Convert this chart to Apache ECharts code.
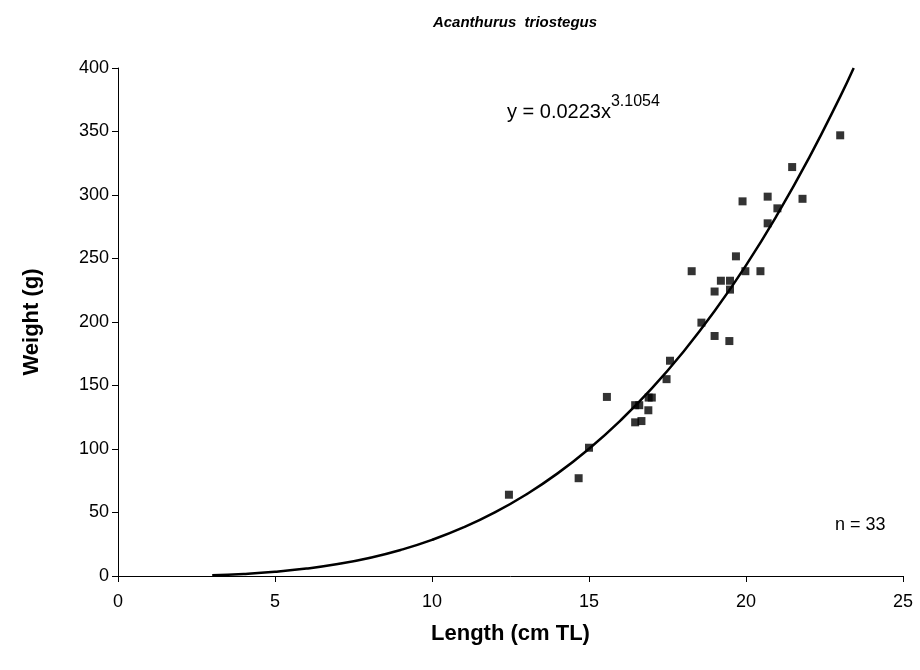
<!DOCTYPE html>
<html>
<head>
<meta charset="utf-8">
<script src="https://cdn.jsdelivr.net/npm/echarts@6/dist/echarts.min.js"></script>
<style>
html,body{margin:0;padding:0;background:#fff;}
#c{width:920px;height:670px;}
</style>
</head>
<body>
<div id="c"></div>
<script>
// Observed data: length (cm TL) and weight (g)
const lengths = [12.45, 14.67, 15.0, 15.57, 16.47, 16.67, 16.47, 16.6, 16.89, 16.9, 17.0, 17.47, 17.58, 18.27, 18.58, 19.0, 19.0, 19.47, 19.2, 19.49, 19.49, 19.68, 19.89, 19.98, 20.46, 20.69, 20.69, 21.0, 21.47, 21.8, 23.0];
const weights = [64, 77, 101, 141, 121, 122, 134.5, 134.5, 130.5, 140.5, 140.5, 155, 169.5, 240, 199.5, 224, 189, 185, 232.5, 232.5, 225.5, 251.7, 295, 240, 240, 298.7, 277.7, 289.5, 322, 297, 347];

// Trend curve
const trendX = [3, 4, 5, 6, 7, 8, 9, 10, 11, 12, 13, 14, 15, 16, 17, 18, 19, 20, 21, 22, 23, 23.43];
const trendY = [0.68, 1.65, 3.30, 5.82, 9.39, 14.21, 20.49, 28.42, 38.21, 50.07, 64.2, 80.8, 100.2, 122.4, 147.7, 176.4, 208.6, 244.6, 284.7, 328.9, 377.5, 400];

const xTicks = [0, 5, 10, 15, 20, 25];
const yTicks = [0, 50, 100, 150, 200, 250, 300, 350, 400];

const titleText = 'Acanthurus  triostegus';
const eqMain = 'y = 0.0223x';
const eqExp = '3.1054';
const nText = 'n = 33';

const FONT = 'Liberation Sans, Arial, sans-serif';
const chart = echarts.init(document.getElementById('c'));

const scatterData = lengths.map((x, i) => [x, weights[i]]);
const trendData = trendX.map((x, i) => [x, trendY[i]]);

chart.setOption({
  animation: false,
  backgroundColor: '#fff',
  title: {
    text: titleText,
    left: 510, textAlign: 'center', top: 10,
    textStyle: {fontFamily: FONT, fontSize: 15, fontWeight: 'bold', fontStyle: 'italic', color: '#000'}
  },
  grid: {left: 118, right: 17, top: 68, bottom: 94, containLabel: false},
  xAxis: {
    type: 'value', min: xTicks[0], max: xTicks[xTicks.length - 1], interval: 5,
    name: 'Length (cm TL)', nameLocation: 'middle', nameGap: 47,
    nameTextStyle: {fontFamily: FONT, fontSize: 22, fontWeight: 'bold', color: '#000'},
    axisLine: {onZero: false, lineStyle: {color: '#000', width: 1}},
    axisTick: {show: true, inside: false, length: 6, lineStyle: {color: '#000'}},
    axisLabel: {fontFamily: FONT, fontSize: 18, color: '#000', margin: 17},
    splitLine: {show: false}
  },
  yAxis: {
    type: 'value', min: yTicks[0], max: yTicks[yTicks.length - 1], interval: 50,
    name: 'Weight (g)', nameLocation: 'middle', nameGap: 75,
    nameTextStyle: {fontFamily: FONT, fontSize: 22, fontWeight: 'bold', color: '#000'},
    axisLine: {show: true, lineStyle: {color: '#000', width: 1}},
    axisTick: {show: true, inside: false, length: 6, lineStyle: {color: '#000'}},
    axisLabel: {fontFamily: FONT, fontSize: 18, color: '#000', margin: 9},
    splitLine: {show: false}
  },
  series: [
    {
      type: 'line', data: trendData, smooth: true, showSymbol: false, symbol: 'none',
      lineStyle: {color: '#000', width: 2.5}, z: 2, silent: true
    },
    {
      type: 'scatter', data: scatterData, symbol: 'rect', symbolSize: 8,
      itemStyle: {color: '#000'}, z: 3
    }
  ],
  graphic: [
    {
      type: 'text', left: 507, top: 94,
      style: {
        text: '{a|' + eqMain + '}{b|' + eqExp + '}',
        rich: {
          a: {fontFamily: FONT, fontSize: 20, fill: '#000', verticalAlign: 'bottom', lineHeight: 28},
          b: {fontFamily: FONT, fontSize: 16, fill: '#000', verticalAlign: 'top', lineHeight: 28, padding: [0, 0, 12, 0]}
        }
      }
    },
    {
      type: 'text', left: 835, top: 516,
      style: {text: nText, fontFamily: FONT, fontSize: 18, fill: '#000'}
    }
  ]
});
</script>
</body>
</html>
